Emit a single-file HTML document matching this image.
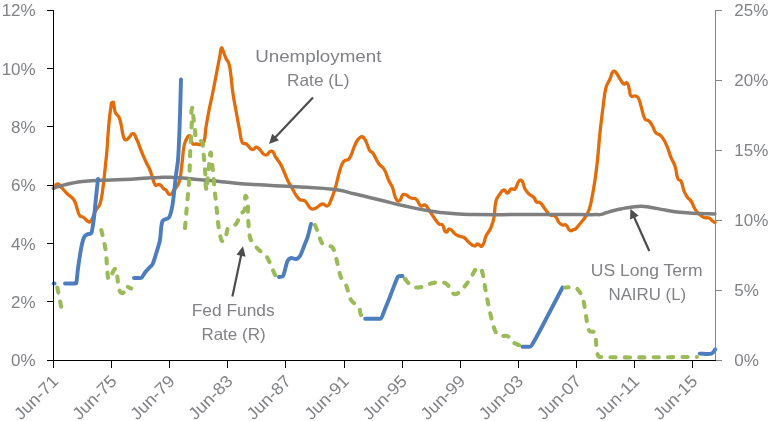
<!DOCTYPE html>
<html><head><meta charset="utf-8"><title>Chart</title>
<style>html,body{margin:0;padding:0;background:#fff}body{width:776px;height:421px;overflow:hidden;font-family:"Liberation Sans",sans-serif}</style>
</head><body>
<svg width="776" height="421" viewBox="0 0 776 421" style="display:block;font-family:'Liberation Sans',sans-serif;will-change:transform">
<rect width="776" height="421" fill="#fff"/>
<g fill="none" stroke-linejoin="round" stroke-linecap="round">
<path d="M53.5,188 C55.37,186.13 54.88,184.35 57.5,184 C59.63,183.72 59.48,185.48 61,187 C64.15,190.15 64.35,190.85 67.5,194 C70.42,196.92 71.81,196.50 74,200 C76.62,204.19 75.76,205.37 77.5,210 C78.57,212.84 78.13,213.61 80,216 C80.91,217.16 81.77,216.18 83,217 C86.03,219.02 85.74,220.37 89,222 C89.93,222.47 90.47,221.90 91,221 C93.84,216.13 93.36,214.98 96,210 C97.57,207.03 99.00,207.21 100,204 C102.32,196.53 101.91,195.25 103,187.5 C104.48,177.04 104.38,175.51 105.5,165 C106.25,158.00 106.42,157.01 107,150 C107.58,143.01 107.45,141.99 108,135 C108.62,127.06 108.65,125.92 109.5,118 C110.05,112.85 110.00,112.08 111,107 C111.45,104.73 110.40,103.03 112.6,102.3 C114.35,101.72 113.52,104.22 114,106 C114.83,109.04 114.12,109.72 115.4,112.6 C116.51,115.09 117.85,114.73 119,117.2 C120.60,120.63 120.35,121.31 121.2,125 C122.41,130.24 121.74,131.19 123.4,136.3 C124.03,138.24 123.98,139.57 126,139.8 C128.08,140.04 127.95,138.41 129.5,137 C131.13,135.51 130.61,133.33 132.8,133.6 C135.25,133.90 134.94,135.57 136,137.8 C139.50,145.16 139.39,146.47 142.5,154 C144.06,157.77 144.27,158.31 146,162 C147.77,165.78 148.39,166.15 150,170 C151.43,173.40 151.23,174.04 152.5,177.5 C153.80,181.04 152.83,182.33 155.5,185 C156.83,186.33 157.80,183.70 159.5,184.5 C162.19,185.76 161.73,187.08 164,189 C164.80,189.67 165.23,189.29 166,190 C168.07,191.90 167.19,194.50 170,194.5 C172.81,194.50 172.31,192.25 174,190 C176.52,186.63 177.75,186.52 179,182.5 C181.46,174.60 180.64,173.19 181.8,165 C183.12,155.69 182.39,154.21 184.3,145 C185.12,141.05 185.44,140.41 187.6,137 C188.25,135.97 189.27,135.03 190,136 C192.26,138.99 190.17,140.74 192.6,143.6 C193.88,145.10 194.84,143.81 196.8,144 C198.76,144.19 199.10,144.93 201,144.4 C202.69,143.92 203.41,143.69 203.9,142 C205.85,135.21 204.86,133.98 206,127 C207.43,118.29 207.69,117.06 209.4,108.4 C210.82,101.19 211.23,100.20 212.7,93 C214.31,85.08 214.47,83.93 216,76 C217.22,69.70 217.40,68.80 218.6,62.5 C219.36,58.54 219.43,57.96 220.2,54 C220.74,51.20 220.03,50.51 221.4,48 C221.85,47.18 222.19,48.76 222.6,49.6 C223.56,51.58 223.51,51.95 224.3,54 C225.09,56.05 225.03,56.42 226,58.4 C227.14,60.73 228.02,60.73 228.8,63.2 C230.20,67.63 229.97,68.39 230.6,73 C231.88,82.31 231.56,83.70 232.9,93 C234.17,101.82 234.61,103.04 236.2,111.8 C237.74,120.30 237.90,121.53 239.6,130 C240.79,135.95 239.76,137.23 242.4,142.7 C243.23,144.42 244.73,142.82 246.3,143.9 C249.37,146.02 248.54,148.28 252.1,149.4 C254.51,150.16 254.76,146.32 257.1,147.3 C262.01,149.35 260.36,153.63 265.5,155 C268.69,155.85 268.16,150.46 271.4,151.1 C274.72,151.76 273.68,154.22 275.6,157 C278.16,160.71 278.93,161.00 281,165 C284.51,171.78 284.20,173.12 287.5,180 C289.58,184.33 290.01,184.89 292.5,189 C295.38,193.76 294.98,195.15 299,199 C301.13,201.04 302.70,199.16 305,201 C308.53,203.82 307.19,206.17 311,208.6 C312.98,209.86 313.82,208.87 316,208 C319.31,206.68 318.99,204.61 322.5,204 C324.98,203.57 325.04,206.49 327.5,206 C329.47,205.61 329.19,204.34 330,202.5 C332.71,196.35 333.02,195.42 335,189 C337.70,180.24 337.19,178.73 340,170 C341.41,165.62 341.09,164.56 344,161 C345.59,159.05 347.58,161.07 349,159 C353.03,153.14 351.76,151.33 355,145 C356.92,141.26 356.68,140.08 360,137.5 C361.48,136.35 362.88,136.49 364,138 C367.98,143.37 366.62,145.24 370,151 C370.69,152.17 371.73,151.38 372.5,152.5 C376.01,157.57 375.48,158.94 379,164 C380.89,166.71 382.33,166.16 384,169 C387.08,174.23 386.47,175.49 389,181 C390.44,184.13 391.24,184.29 392.5,187.5 C394.29,192.03 393.39,193.11 395.5,197.5 C396.50,199.58 396.82,201.78 399,201 C402.05,199.91 400.30,197.38 402.5,195 C403.31,194.13 403.88,194.10 405,194.5 C408.06,195.58 408.00,196.77 411,198 C413.20,198.90 414.14,197.51 416,199 C419.13,201.51 417.66,203.77 421,206 C422.60,207.07 423.28,204.14 425,205 C427.67,206.34 427.25,207.58 429,210 C431.46,213.41 431.56,214.08 434,217.5 C436.22,220.61 436.13,221.47 439,224 C440.27,225.12 441.38,223.72 442.5,225 C444.91,227.75 442.83,230.19 446,232 C447.87,233.07 447.40,228.53 449.5,229 C452.89,229.75 452.21,231.94 455,234 C456.68,235.24 457.05,235.24 459,236 C461.27,236.88 461.96,236.17 464,237.5 C466.77,239.30 466.44,240.42 469,242.5 C471.36,244.41 471.50,245.47 474.5,246 C476.16,246.29 475.82,244.00 477.5,244 C479.80,244.00 480.33,247.58 482,246 C485.66,242.56 483.80,240.52 486,236 C488.01,231.86 489.17,231.72 491,227.5 C492.93,223.03 493.10,222.29 494,217.5 C495.44,209.88 494.08,208.52 496,201 C496.93,197.35 497.79,197.04 500,194 C501.55,191.87 501.38,190.35 504,190 C506.13,189.72 505.37,193.30 507.5,193 C509.96,192.65 508.81,190.17 511,189 C512.65,188.12 513.68,190.32 515,189 C517.95,186.05 516.25,184.14 519,181 C519.92,179.95 521.16,179.88 522,181 C524.39,184.19 523.11,185.49 525,189 C526.42,191.63 526.83,191.95 529,194 C531.07,195.96 532.05,195.42 534,197.5 C535.64,199.25 534.65,200.46 536.5,202 C537.77,203.06 538.73,201.45 540,202.5 C542.95,204.93 542.61,206.01 545,209 C547.28,211.85 547.01,212.91 550,215 C551.95,216.36 553.17,214.48 555,216 C557.74,218.28 556.72,219.76 559,222.5 C560.28,224.04 560.61,224.32 562.5,225 C564.04,225.55 564.68,224.03 566,225 C568.56,226.88 567.23,228.94 570,230.5 C571.68,231.44 572.14,230.01 574,229.5 C574.71,229.31 574.98,229.52 575.5,229 C578.31,226.19 578.47,225.56 581,222.5 C582.90,220.20 583.39,220.02 585,217.5 C587.14,214.16 587.69,213.74 589,210 C590.98,204.34 590.82,203.38 592,197.5 C593.62,189.38 593.80,188.20 595,180 C596.36,170.69 596.52,169.35 597.5,160 C598.85,147.18 598.66,145.32 600,132.5 C601.22,120.81 601.45,119.15 603,107.5 C604.25,98.15 603.75,96.67 606,87.5 C607.05,83.24 608.23,83.01 610,79 C611.50,75.59 610.70,74.53 613,71.6 C613.73,70.67 614.69,71.14 615.5,72 C618.17,74.82 617.76,75.83 620,79 C621.73,81.44 621.41,82.52 624,84 C625.28,84.73 626.00,81.91 627,83 C629.34,85.56 628.48,86.68 629.5,90 C630.35,92.76 629.05,93.87 631,96 C632.26,97.38 633.17,95.61 635,96 C636.53,96.33 637.19,96.16 638,97.5 C640.16,101.11 639.70,102.00 641,106 C642.97,112.04 642.01,113.40 645,119 C645.98,120.84 647.47,119.58 649,121 C651.08,122.94 651.06,123.54 652.5,126 C654.34,129.15 653.66,130.19 656,133 C657.34,134.60 658.43,133.63 660,135 C662.25,136.97 662.46,137.44 664,140 C665.99,143.31 666.07,143.91 667.5,147.5 C669.34,152.09 669.14,152.92 671,157.5 C672.65,161.56 673.64,161.83 675,166 C676.93,171.92 675.69,173.22 678,179 C678.62,180.56 680.25,179.50 681,181 C683.18,185.36 682.21,186.47 684,191 C685.26,194.21 685.52,194.68 687.5,197.5 C688.82,199.39 689.74,199.07 691,201 C693.28,204.50 692.81,205.45 695,209 C696.57,211.54 696.83,211.95 699,214 C701.07,215.96 701.36,216.44 704,217.5 C706.18,218.37 706.83,217.11 709,218 C710.99,218.82 710.78,219.71 712.5,221 C713.59,221.82 713.83,221.80 715,222.5" stroke="#e36c0a" stroke-width="3.3"/>
<path d="M53.5,188.3 C56.97,187.07 56.45,186.96 60,186 C67.13,184.07 66.24,184.26 73.5,182.9 C79.59,181.76 78.84,181.94 85,181.3 C92.23,180.55 91.33,180.64 98.6,180.3 C112.03,179.68 110.37,180.14 123.8,179.5 C137.25,178.86 135.56,178.68 149,177.9 C154.86,177.56 154.13,177.57 160,177.4 C165.33,177.25 164.67,177.19 170,177.3 C175.34,177.41 174.67,177.40 180,177.8 C185.34,178.20 184.66,178.30 190,178.8 C200.66,179.80 199.34,179.58 210,180.6 C222.81,181.82 221.19,181.82 234,183 C242.53,183.79 241.45,183.78 250,184.3 C276.66,185.92 273.34,185.37 300,187 C318.68,188.14 316.44,187.14 335,189.5 C345.85,190.88 344.35,191.52 355,194 C368.35,197.12 366.67,196.80 380,200 C393.33,203.20 391.61,203.05 405,206 C418.28,208.92 416.56,208.92 430,211 C443.26,213.05 441.63,212.71 455,213.75 C465.64,214.58 464.33,214.36 475,214.5 C499.00,214.81 496.00,214.58 520,214.6 C552.00,214.63 548.00,214.60 580,214.6 C589.07,214.60 587.93,214.69 597,214.6 C599.14,214.58 598.91,214.82 601,214.4 C603.75,213.85 603.32,213.60 606,212.8 C610.79,211.36 610.16,211.43 615,210.2 C618.96,209.19 618.48,209.36 622.5,208.6 C626.91,207.76 626.35,207.78 630.8,207.2 C636.22,206.50 635.53,206.20 641,206.2 C645.83,206.20 645.23,206.44 650,207.2 C658.04,208.47 656.98,208.64 665,210 C672.98,211.36 671.95,211.49 680,212.3 C690.63,213.36 689.33,212.98 700,213.5 C708.00,213.89 707.00,213.73 715,214" stroke="#7f7f7f" stroke-width="3.5"/>
<path d="M53.8,283.5 L54.6,283.5" stroke="#4c7dbd" stroke-width="3.9"/>
<path d="M65,283.5 C66.33,283.50 68.67,283.50 70,283.5 C71.33,283.50 73.67,283.61 75,283.5 C75.37,283.47 76.22,283.36 76.3,283 C77.01,279.58 77.34,273.46 77.8,270 C78.33,265.99 79.36,258.99 80,255 C80.48,252.06 81.32,246.90 82,244 C82.44,242.09 83.25,238.71 84.2,237 C84.74,236.02 86.41,234.81 87.4,234.3 C88.27,233.85 90.38,234.26 91,233.5 C91.96,232.32 92.22,229.49 92.5,228 C93.02,225.22 93.68,220.31 94,217.5 C94.61,212.18 95.45,202.83 96,197.5 C96.51,192.56 97.47,183.93 98,179" stroke="#4c7dbd" stroke-width="3.9"/>
<path d="M134,278 C135.07,278.00 136.93,278.03 138,278 C138.93,277.98 140.76,278.38 141.5,277.8 C142.83,276.75 143.95,273.83 145,272.5 C146.23,270.94 148.64,268.45 150,267 C150.64,266.31 152.10,265.36 152.5,264.5 C153.74,261.82 155.14,256.82 156,254 C157.14,250.29 159.25,243.81 160,240 C160.99,234.99 160.60,225.74 162.5,221 C163.23,219.17 167.96,219.17 169,217.5 C170.83,214.56 171.94,208.42 172.5,205 C173.81,197.05 175.02,182.99 176,175 C176.49,170.99 177.69,164.02 178,160 C178.62,152.01 179.20,138.00 179.5,130 C180.00,116.54 180.60,92.97 181,79.5" stroke="#4c7dbd" stroke-width="3.9"/>
<path d="M279,277 C280.07,276.73 282.48,276.97 283,276 C284.96,272.31 285.80,264.82 287.5,261 C288.00,259.88 289.80,258.28 291,258 C292.32,257.69 294.67,259.29 296,259 C297.30,258.71 299.31,257.14 300,256 C301.64,253.29 303.31,247.94 304.5,245 C305.31,243.00 306.86,239.56 307.5,237.5 C308.60,233.95 310.07,227.60 311,224" stroke="#4c7dbd" stroke-width="3.9"/>
<path d="M365.2,318.8 C367.01,318.80 370.19,318.80 372,318.8 C373.60,318.80 376.40,318.84 378,318.8 C378.72,318.78 380.09,318.99 380.7,318.6 C381.38,318.16 381.97,316.74 382.3,316 C383.12,314.17 384.26,310.86 385,309 C385.96,306.59 387.75,302.41 388.7,300 C389.75,297.35 391.47,292.66 392.5,290 C393.82,286.61 395.95,280.59 397.5,277.3 C397.71,276.85 398.52,276.32 399,276.2 C399.90,275.96 401.57,276.05 402.5,276" stroke="#4c7dbd" stroke-width="3.9"/>
<path d="M522.5,346.75 C523.70,346.75 525.80,346.77 527,346.75 C527.93,346.73 529.69,347.06 530.5,346.6 C531.40,346.10 532.28,344.39 532.8,343.5 C534.81,340.09 538.14,334.00 540,330.5 C546.06,319.07 556.50,298.97 562.5,287.5" stroke="#4c7dbd" stroke-width="3.9"/>
<path d="M699.7,353.6 C702.85,353.60 708.46,354.42 711.5,353.6 C712.96,353.21 714.29,350.52 715.3,349.4" stroke="#4c7dbd" stroke-width="3.9"/>
</g><g fill="none" stroke-linejoin="round" stroke-linecap="round">
<path d="M57.3,287.5 C58.03,291.00 58.83,294.49 59.5,298 C60.29,302.16 60.97,306.33 61.7,310.5" stroke="#9bbb59" stroke-width="4.1" stroke-dasharray="5.2 9.2" stroke-dashoffset="0"/>
<path d="M101.3,230 C102.37,234.67 103.54,239.31 104.5,244 C105.11,246.98 105.67,249.98 106,253 C106.50,257.55 106.66,262.13 107,266.7 C107.16,268.80 107.21,270.91 107.5,273 C107.81,275.19 107.47,277.73 108.8,279.5 C109.40,280.31 109.99,277.87 110.5,277 C111.06,276.03 111.50,275.00 112,274 C112.67,272.67 113.15,271.23 114,270 C114.44,269.36 115.44,267.81 115.8,268.5 C117.03,270.85 116.89,273.68 117.3,276.3 C117.63,278.42 117.68,280.58 118,282.7 C118.38,285.21 118.58,287.79 119.4,290.2 C119.78,291.30 120.45,292.49 121.5,293 C122.19,293.34 123.29,292.95 123.7,292.3 C124.89,290.38 124.48,287.65 125.9,285.9 C126.40,285.29 127.29,286.65 128,287 C129.06,287.52 130.13,288.00 131.2,288.5" stroke="#9bbb59" stroke-width="4.1" stroke-dasharray="5.2 9.2" stroke-dashoffset="0"/>
<path d="M185,228 C185.47,222.67 185.93,217.33 186.4,212 C186.80,207.50 187.19,203.00 187.6,198.5 C188.06,193.47 188.67,188.44 189,183.4 C189.40,177.27 189.57,171.13 189.8,165 C189.97,160.67 190.01,156.33 190.2,152 C190.41,147.00 190.73,142.00 191,137 C191.26,132.20 191.60,127.40 191.8,122.6 C192.00,117.74 190.34,112.50 192.2,108 C193.55,104.74 193.06,115.00 193.5,118.5 C194.06,123.00 194.66,127.50 195.2,132 C195.46,134.16 195.12,136.47 195.9,138.5 C196.30,139.54 197.50,140.10 198.5,140.6 C199.35,141.03 200.48,140.71 201.3,141.2 C201.92,141.57 202.33,142.30 202.5,143 C202.91,144.62 202.83,146.33 203,148 C203.33,151.33 203.69,154.66 204,158 C204.43,162.66 204.84,167.33 205.2,172 C205.67,178.00 204.84,184.22 206.5,190 C207.43,193.22 207.14,183.33 207.5,180 C207.94,175.83 208.45,171.67 208.9,167.5 C209.42,162.67 208.81,157.59 210.4,153 C211.17,150.77 211.17,157.66 211.5,160 C212.11,164.33 212.73,168.65 213.2,173 C213.70,177.66 213.96,182.34 214.4,187 C214.92,192.50 215.53,198.00 216.1,203.5 C216.50,207.33 216.89,211.17 217.3,215 C217.82,219.83 218.21,224.69 218.9,229.5 C219.21,231.69 219.72,233.86 220.3,236 C220.76,237.70 220.66,239.86 222,241 C222.80,241.68 224.56,240.96 225,240 C226.73,236.26 226.16,231.69 228,228 C228.67,226.67 230.67,226.67 232,226 C233.33,225.33 235.11,225.19 236,224 C238.24,221.02 239.07,217.19 241,214 C241.92,212.49 244.00,211.70 244.5,210 C245.79,205.65 244.28,192.39 246.2,196.5 C249.17,202.87 247.35,210.50 248,217.5 C248.62,224.17 248.71,230.93 250,237.5 C250.40,239.55 251.78,241.31 253,243 C254.80,245.49 256.78,247.87 259,250 C260.97,251.89 263.66,252.98 265.5,255 C267.06,256.71 267.94,258.94 269,261 C270.01,262.95 270.84,264.98 271.7,267 C272.34,268.48 272.83,270.03 273.5,271.5 C274.10,272.80 274.59,274.19 275.5,275.3 C276.14,276.08 277.17,276.43 278,277" stroke="#9bbb59" stroke-width="4.1" stroke-dasharray="5.2 9.2" stroke-dashoffset="0"/>
<path d="M315,225 C316.00,227.50 317.01,230.00 318,232.5 C319.51,236.33 320.16,240.62 322.5,244 C323.40,245.30 325.51,244.98 327,245.5 C328.84,246.14 331.33,245.94 332.5,247.5 C334.62,250.33 335.04,254.10 336,257.5 C337.87,264.11 338.65,271.04 341,277.5 C342.03,280.32 344.78,282.25 346,285 C348.14,289.82 348.36,295.44 351,300 C352.83,303.16 356.97,304.46 359,307.5 C360.44,309.65 359.73,312.75 361,315 C361.99,316.75 364.00,317.67 365.5,319" stroke="#9bbb59" stroke-width="4.1" stroke-dasharray="5.2 9.2" stroke-dashoffset="0"/>
<path d="M405,279 C406.67,280.83 408.04,282.99 410,284.5 C411.77,285.87 413.78,287.28 416,287.5 C419.03,287.80 422.07,286.80 425,286 C427.60,285.29 429.84,283.40 432.5,283 C436.62,282.38 440.99,281.86 445,283 C447.27,283.65 448.51,286.18 450,288 C451.52,289.86 451.85,292.93 454,294 C455.56,294.78 457.59,293.52 459,292.5 C461.38,290.77 463.16,288.30 465,286 C467.17,283.29 469.12,280.41 471,277.5 C472.79,274.74 473.74,271.39 476,269 C476.95,268.00 478.96,267.11 480,268 C481.93,269.65 482.38,272.54 483,275 C484.23,279.92 484.58,285.02 485.5,290 C486.58,295.85 487.75,301.68 489,307.5 C490.08,312.52 491.12,317.56 492.5,322.5 C493.45,325.90 494.28,329.41 496,332.5 C496.86,334.05 498.31,335.48 500,336 C502.39,336.73 505.22,334.97 507.5,336 C509.35,336.84 509.45,339.68 511,341 C512.87,342.59 515.24,343.52 517.5,344.5 C519.10,345.19 520.83,345.50 522.5,346" stroke="#9bbb59" stroke-width="4.1" stroke-dasharray="5.2 9.2" stroke-dashoffset="0"/>
<path d="M565,287.5 C568.33,287.50 571.77,286.69 575,287.5 C576.72,287.93 577.94,289.58 579,291 C580.48,292.97 581.72,295.17 582.5,297.5 C583.74,301.22 584.30,305.14 585,309 C585.97,314.31 586.42,319.71 587.5,325 C587.92,327.07 588.01,329.51 589.5,331 C590.84,332.34 594.06,330.85 595,332.5 C596.65,335.42 595.61,339.17 596,342.5 C596.45,346.34 596.47,350.27 597.5,354 C597.85,355.25 598.70,356.96 600,357 C632.32,357.97 664.67,357.00 697,357" stroke="#9bbb59" stroke-width="4.1" stroke-dasharray="5.2 9.2" stroke-dashoffset="1.6"/>
</g>
<g stroke="#000" stroke-width="1" fill="none" shape-rendering="crispEdges">
<line x1="53.5" y1="10" x2="53.5" y2="361"/>
<line x1="47" y1="360.5" x2="716" y2="360.5"/>
<line x1="47" y1="10.5" x2="53.5" y2="10.5"/>
<line x1="47" y1="68.5" x2="53.5" y2="68.5"/>
<line x1="47" y1="126.5" x2="53.5" y2="126.5"/>
<line x1="47" y1="185.5" x2="53.5" y2="185.5"/>
<line x1="47" y1="243.5" x2="53.5" y2="243.5"/>
<line x1="47" y1="301.5" x2="53.5" y2="301.5"/>
<line x1="47" y1="360.5" x2="53.5" y2="360.5"/>
<line x1="53.5" y1="360.5" x2="53.5" y2="367.5"/>
<line x1="111.5" y1="360.5" x2="111.5" y2="367.5"/>
<line x1="169.5" y1="360.5" x2="169.5" y2="367.5"/>
<line x1="227.5" y1="360.5" x2="227.5" y2="367.5"/>
<line x1="285.5" y1="360.5" x2="285.5" y2="367.5"/>
<line x1="344.5" y1="360.5" x2="344.5" y2="367.5"/>
<line x1="402.5" y1="360.5" x2="402.5" y2="367.5"/>
<line x1="460.5" y1="360.5" x2="460.5" y2="367.5"/>
<line x1="518.5" y1="360.5" x2="518.5" y2="367.5"/>
<line x1="576.5" y1="360.5" x2="576.5" y2="367.5"/>
<line x1="634.5" y1="360.5" x2="634.5" y2="367.5"/>
<line x1="692.5" y1="360.5" x2="692.5" y2="367.5"/>
</g>
<g stroke="#868686" stroke-width="1" fill="none" shape-rendering="crispEdges">
<line x1="715.5" y1="10" x2="715.5" y2="360"/>
<line x1="715.5" y1="10.5" x2="722" y2="10.5"/>
<line x1="715.5" y1="80.5" x2="722" y2="80.5"/>
<line x1="715.5" y1="150.5" x2="722" y2="150.5"/>
<line x1="715.5" y1="220.5" x2="722" y2="220.5"/>
<line x1="715.5" y1="290.5" x2="722" y2="290.5"/>
<line x1="715.5" y1="360.5" x2="722" y2="360.5"/>
</g>
<g fill="#808285" font-size="16.5">
<text x="35.7" y="16.30" text-anchor="end" font-size="17">12%</text>
<text x="35.7" y="74.63" text-anchor="end" font-size="17">10%</text>
<text x="35.7" y="132.97" text-anchor="end" font-size="17">8%</text>
<text x="35.7" y="191.30" text-anchor="end" font-size="17">6%</text>
<text x="35.7" y="249.63" text-anchor="end" font-size="17">4%</text>
<text x="35.7" y="307.97" text-anchor="end" font-size="17">2%</text>
<text x="35.7" y="366.30" text-anchor="end" font-size="17">0%</text>
<text x="734.3" y="16.30" font-size="17">25%</text>
<text x="734.3" y="86.30" font-size="17">20%</text>
<text x="734.3" y="156.30" font-size="17">15%</text>
<text x="734.3" y="226.30" font-size="17">10%</text>
<text x="734.3" y="296.30" font-size="17">5%</text>
<text x="734.3" y="366.30" font-size="17">0%</text>
<text transform="translate(59.60,382.3) rotate(-45)" x="-54.5" textLength="54.5" lengthAdjust="spacingAndGlyphs" font-size="17">Jun-71</text>
<text transform="translate(117.68,382.3) rotate(-45)" x="-54.5" textLength="54.5" lengthAdjust="spacingAndGlyphs" font-size="17">Jun-75</text>
<text transform="translate(175.76,382.3) rotate(-45)" x="-54.5" textLength="54.5" lengthAdjust="spacingAndGlyphs" font-size="17">Jun-79</text>
<text transform="translate(233.84,382.3) rotate(-45)" x="-54.5" textLength="54.5" lengthAdjust="spacingAndGlyphs" font-size="17">Jun-83</text>
<text transform="translate(291.92,382.3) rotate(-45)" x="-54.5" textLength="54.5" lengthAdjust="spacingAndGlyphs" font-size="17">Jun-87</text>
<text transform="translate(350.00,382.3) rotate(-45)" x="-54.5" textLength="54.5" lengthAdjust="spacingAndGlyphs" font-size="17">Jun-91</text>
<text transform="translate(408.08,382.3) rotate(-45)" x="-54.5" textLength="54.5" lengthAdjust="spacingAndGlyphs" font-size="17">Jun-95</text>
<text transform="translate(466.16,382.3) rotate(-45)" x="-54.5" textLength="54.5" lengthAdjust="spacingAndGlyphs" font-size="17">Jun-99</text>
<text transform="translate(524.24,382.3) rotate(-45)" x="-54.5" textLength="54.5" lengthAdjust="spacingAndGlyphs" font-size="17">Jun-03</text>
<text transform="translate(582.32,382.3) rotate(-45)" x="-54.5" textLength="54.5" lengthAdjust="spacingAndGlyphs" font-size="17">Jun-07</text>
<text transform="translate(640.40,382.3) rotate(-45)" x="-54.5" textLength="54.5" lengthAdjust="spacingAndGlyphs" font-size="17">Jun-11</text>
<text transform="translate(698.48,382.3) rotate(-45)" x="-54.5" textLength="54.5" lengthAdjust="spacingAndGlyphs" font-size="17">Jun-15</text>
<text x="255.2" y="62" textLength="126.2" lengthAdjust="spacingAndGlyphs">Unemployment</text>
<text x="287.0" y="85.5" textLength="62.4" lengthAdjust="spacingAndGlyphs">Rate (L)</text>
<text x="191.7" y="316.3" textLength="82.9" lengthAdjust="spacingAndGlyphs">Fed Funds</text>
<text x="201.39999999999998" y="340.2" textLength="64.2" lengthAdjust="spacingAndGlyphs">Rate (R)</text>
<text x="590.8000000000001" y="276" textLength="111.7" lengthAdjust="spacingAndGlyphs">US Long Term</text>
<text x="608.5" y="299.6" textLength="77.6" lengthAdjust="spacingAndGlyphs">NAIRU (L)</text>
</g>
<line x1="313" y1="97.5" x2="274.22" y2="138.48" stroke="#4d4d4d" stroke-width="2.2"/><polygon points="269,144 272.18,133.80 279.01,140.26" fill="#4d4d4d"/>
<line x1="232.4" y1="296.5" x2="241.43" y2="253.74" stroke="#4d4d4d" stroke-width="2.2"/><polygon points="243,246.3 245.62,256.66 236.42,254.72" fill="#4d4d4d"/>
<line x1="649.3" y1="251" x2="633.51" y2="215.74" stroke="#4d4d4d" stroke-width="2.2"/><polygon points="630.4,208.8 638.61,215.64 630.03,219.48" fill="#4d4d4d"/>
</svg>
</body></html>
